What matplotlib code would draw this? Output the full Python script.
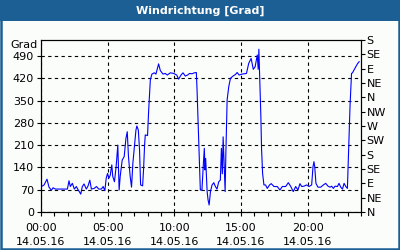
import numpy as np
import matplotlib.pyplot as plt
from matplotlib.patches import Rectangle

# Zeit in Stunden (14.05.16) und Windrichtung in Grad
stunden = [0.0, 0.23, 0.45, 0.6, 0.78, 0.9, 1.08, 1.98, 2.1, 2.2, 2.35, 2.5, 2.65, 2.78,
           2.9, 2.98, 3.1, 3.23, 3.4, 3.53, 3.66, 3.78, 3.98, 4.16, 4.33, 4.53, 4.66, 4.79,
           4.89, 4.99, 5.09, 5.19, 5.31, 5.38, 5.51, 5.64, 5.76, 5.86, 5.94, 6.09, 6.24,
           6.37, 6.47, 6.56, 6.69, 6.79, 6.89, 7.02, 7.12, 7.19, 7.3, 7.39, 7.47, 7.62,
           7.69, 7.77, 7.82, 7.99, 8.07, 8.2, 8.32, 8.5, 8.62, 8.82, 8.95, 9.15, 9.32,
           9.47, 9.7, 9.95, 10.18, 10.32, 10.5, 10.65, 10.82, 11.0, 11.14, 11.33, 11.5,
           11.65, 11.7, 11.78, 11.88, 11.95, 12.07, 12.18, 12.25, 12.3, 12.35, 12.46,
           12.53, 12.61, 12.71, 12.83, 12.96, 13.08, 13.2, 13.33, 13.45, 13.53, 13.6,
           13.66, 13.74, 13.81, 13.86, 13.96, 14.08, 14.21, 14.41, 14.59, 14.71, 14.86,
           15.08, 15.41, 15.58, 15.76, 15.92, 16.06, 16.22, 16.29, 16.34, 16.41, 16.49,
           16.54, 16.62, 16.72, 16.84, 16.97, 17.14, 17.27, 17.47, 17.72, 17.92, 18.1,
           18.35, 18.55, 18.72, 18.92, 19.1, 19.27, 19.42, 19.55, 19.72, 19.92, 20.1,
           20.3, 20.4, 20.47, 20.53, 20.62, 20.77, 20.98, 21.18, 21.35, 21.53, 21.68,
           21.8, 21.93, 22.05, 22.23, 22.35, 22.48, 22.61, 22.73, 22.86, 22.98, 23.03,
           23.11, 23.18, 23.29, 23.36, 23.48, 23.61, 23.73, 23.86]
grad = [79, 85, 103, 78, 68, 76, 72, 72, 98, 80, 90, 72, 80, 70,
        62, 56, 80, 88, 72, 82, 100, 72, 74, 80, 72, 72, 80, 67,
        106, 121, 106, 115, 148, 112, 95, 145, 210, 69, 112, 163, 174,
        231, 252, 174, 111, 78, 153, 210, 257, 270, 257, 195, 85, 82,
        132, 210, 242, 240, 315, 415, 433, 437, 433, 465, 444, 433, 435,
        430, 437, 435, 430, 417, 430, 437, 427, 430, 435, 434, 437,
        438, 388, 289, 174, 69, 69, 153, 200, 132, 168, 64,
        38, 22, 64, 85, 92, 80, 72, 95, 100, 200, 120,
        236, 140, 64, 175, 352, 393, 420, 427, 432, 438, 430,
        433, 435, 467, 482, 448, 456, 493, 448, 511, 414, 299,
        200, 121, 85, 85, 74, 85, 89, 80, 80, 69, 80,
        80, 92, 81, 64, 80, 69, 89, 80, 81, 85, 80,
        85, 142, 158, 142, 90, 78, 78, 85, 90, 81, 78,
        81, 74, 81, 80, 90, 78, 72, 90, 80, 74, 137,
        247, 336, 435, 437, 446, 456, 465, 472]

links_ticks = [0, 70, 140, 210, 280, 350, 420, 490]
rechts_ticks = [0, 45, 90, 135, 180, 225, 270, 315, 360, 405, 450, 495, 540]
rechts_labels = ['N', 'NE', 'E', 'SE', 'S', 'SW', 'W', 'NW', 'N', 'NE', 'E', 'SE', 'S']
x_ticks = [0, 5, 10, 15, 20]
x_labels = ['00:00\n14.05.16', '05:00\n14.05.16', '10:00\n14.05.16',
            '15:00\n14.05.16', '20:00\n14.05.16']

blau = '#1c5f94'
fig = plt.figure(figsize=(4, 2.5), dpi=100)
fig.patch.set_facecolor('#fbfdfb')

# Rahmen und Titelleiste
fig.patches.append(Rectangle((0, 1 - 21 / 250), 1, 21 / 250, transform=fig.transFigure,
                             facecolor=blau, edgecolor='none'))
fig.patches.append(Rectangle((0.75 / 400, 0.75 / 250), 1 - 1.5 / 400, 1 - 1.5 / 250,
                             transform=fig.transFigure, facecolor='none',
                             edgecolor=blau, linewidth=1.8))
fig.text(0.5, 1 - 10.5 / 250, 'Windrichtung [Grad]', color='white', fontsize=8,
         fontweight='bold', ha='center', va='center')

ax = fig.add_axes([41 / 400, 1 - 212 / 250, 320 / 400, 172 / 250])
ax.set_facecolor('#fbfdfb')
ax.plot(stunden, grad, color='#0000ff', linewidth=0.8)
ax.set_xlim(0, 24)
ax.set_ylim(0, 540)
ax.set_yticks(links_ticks)
ax.set_xticks(x_ticks)
ax.set_xticklabels(x_labels, linespacing=1.45)
ax.set_xticks(np.arange(0, 25, 1), minor=True)
ax.grid(True, color='black', linestyle=(0, (3, 3)), linewidth=0.8)
ax.tick_params(axis='both', labelsize=8, length=3, width=0.8, direction='out', pad=2)
ax.tick_params(axis='x', which='minor', length=3, width=0.8)
ax.tick_params(axis='x', pad=5)
for s in ax.spines.values():
    s.set_linewidth(0.8)
ax.text(-0.01, 1.0, 'Grad', transform=ax.transAxes, ha='right', va='top', fontsize=8)

ax2 = ax.twinx()
ax2.set_ylim(0, 540)
ax2.set_yticks(rechts_ticks)
ax2.set_yticklabels(rechts_labels)
ax2.tick_params(axis='y', labelsize=8, length=3, width=0.8, pad=1)
for s in ax2.spines.values():
    s.set_linewidth(0.8)

fig.savefig('out.png', dpi=100, facecolor=fig.get_facecolor())
